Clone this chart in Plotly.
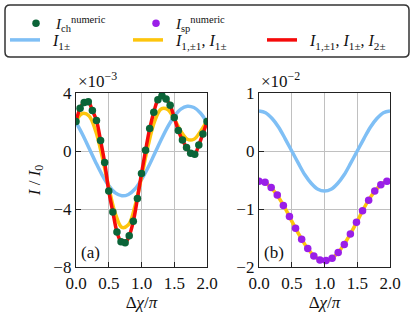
import plotly.graph_objects as go

# ---------------- data (intensities in units of the axis multiplier) ----------------
# panel (a): I/I0 in units of 1e-3
x_curve = [0.0, 0.1, 0.2, 0.3, 0.4, 0.5, 0.6, 0.7, 0.8, 0.9, 1.0,
           1.1, 1.2, 1.3, 1.4, 1.5, 1.6, 1.7, 1.8, 1.9, 2.0]
blue_a = [1.97, 1.14, 0.19, -0.77, -1.66, -2.39, -2.89, -3.09, -3.00, -2.62, -1.97,
          -1.14, -0.19, 0.77, 1.66, 2.39, 2.89, 3.09, 3.00, 2.62, 1.97]
yellow_a = [2.08, 2.59, 2.42, 1.38, -0.40, -2.49, -4.31, -5.27, -5.09, -3.81, -1.80,
            0.35, 2.04, 2.90, 2.86, 2.21, 1.37, 0.81, 0.81, 1.35, 2.08]
x_ch = [0.0, 0.0625, 0.125, 0.1875, 0.25, 0.3125, 0.375, 0.4375, 0.5, 0.5625, 0.625,
        0.6875, 0.75, 0.8125, 0.875, 0.9375, 1.0, 1.0625, 1.125, 1.1875, 1.25, 1.3125,
        1.375, 1.4375, 1.5, 1.5625, 1.625, 1.6875, 1.75, 1.8125, 1.875, 1.9375, 2.0]
numeric_ch = [2.03, 2.95, 3.35, 3.40, 2.80, 2.10, 0.72, -0.80, -2.75, -4.20, -5.58,
              -6.25, -6.33, -5.85, -4.85, -3.28, -1.55, 0.05, 1.55, 2.68, 3.53, 3.81,
              3.58, 3.15, 2.31, 1.41, 0.76, 0.25, -0.16, -0.23, 0.42, 1.18, 2.03]
red_a = [2.03, 2.95, 3.35, 3.40, 2.80, 2.10, 0.72, -0.80, -2.75, -4.20, -5.58,
         -6.25, -6.33, -5.85, -4.85, -3.28, -1.55, 0.05, 1.55, 2.68, 3.53, 3.81,
         3.58, 3.15, 2.31, 1.41, 0.76, 0.25, -0.16, -0.23, 0.42, 1.18, 2.03]

# panel (b): I/I0 in units of 1e-2
blue_b = [0.69, 0.66, 0.56, 0.41, 0.21, 0.00, -0.21, -0.41, -0.56, -0.66, -0.69,
          -0.66, -0.56, -0.41, -0.21, 0.00, 0.21, 0.41, 0.56, 0.66, 0.69]
yellow_b = [-0.52, -0.55, -0.65, -0.80, -0.99, -1.21, -1.42, -1.61, -1.76, -1.86, -1.90,
            -1.86, -1.76, -1.61, -1.42, -1.21, -0.99, -0.80, -0.65, -0.55, -0.52]
x_sp = [0.0, 0.093, 0.186, 0.279, 0.372, 0.465, 0.558, 0.651, 0.744, 0.837, 0.930,
        1.023, 1.116, 1.209, 1.302, 1.395, 1.488, 1.581, 1.674, 1.767, 1.860, 1.953]
numeric_sp = [-0.52, -0.54, -0.63, -0.76, -0.94, -1.13, -1.33, -1.52, -1.68, -1.81, -1.88,
              -1.89, -1.85, -1.75, -1.61, -1.43, -1.23, -1.03, -0.85, -0.69, -0.58, -0.52]

x_ticks = [0.0, 0.5, 1.0, 1.5, 2.0]
ya_ticks = [4, 0, -4, -8]
yb_ticks = [1, 0, -1, -2]

# ---------------- styles ----------------
C_BLUE = "#7fbff5"
C_YEL = "#fdc50c"
C_RED = "#f50a0a"
C_GREEN = "#0b6438"
C_PURP = "#9a1ee8"
FONT = "Liberation Serif"
LW = 3.5
SP = "\u00a0\u00a0"

fig = go.Figure()

fig.add_trace(go.Scatter(x=x_curve, y=blue_a, mode="lines", line=dict(color=C_BLUE, width=LW, shape="spline"),
                         name=SP + "<i>I</i><sub>1±</sub>", legend="legend3", xaxis="x", yaxis="y"))
fig.add_trace(go.Scatter(x=x_curve, y=yellow_a, mode="lines", line=dict(color=C_YEL, width=LW, shape="spline"),
                         name=SP + "<i>I</i><sub>1,±1</sub>, <i>I</i><sub>1±</sub>", legend="legend4",
                         xaxis="x", yaxis="y"))
fig.add_trace(go.Scatter(x=x_ch, y=red_a, mode="lines", line=dict(color=C_RED, width=LW, shape="spline"),
                         name=SP + "<i>I</i><sub>1,±1</sub>, <i>I</i><sub>1±</sub>, <i>I</i><sub>2±</sub>",
                         legend="legend5", xaxis="x", yaxis="y"))
fig.add_trace(go.Scatter(x=x_ch, y=numeric_ch, mode="markers", marker=dict(color=C_GREEN, size=7.5),
                         name="<i>I</i><sub>ch</sub><sup>numeric</sup>", legend="legend", xaxis="x", yaxis="y"))

fig.add_trace(go.Scatter(x=x_curve, y=blue_b, mode="lines", line=dict(color=C_BLUE, width=LW, shape="spline"),
                         showlegend=False, xaxis="x2", yaxis="y2"))
fig.add_trace(go.Scatter(x=x_curve, y=yellow_b, mode="lines", line=dict(color=C_YEL, width=LW, shape="spline"),
                         showlegend=False, xaxis="x2", yaxis="y2"))
fig.add_trace(go.Scatter(x=x_sp, y=numeric_sp, mode="markers", marker=dict(color=C_PURP, size=7.5),
                         name="<i>I</i><sub>sp</sub><sup>numeric</sup>", legend="legend2",
                         xaxis="x2", yaxis="y2"))

W, H = 415, 317
L, R, T, B = 76, 25, 93, 50
PW, PH = W - L - R, H - T - B

def px_x(p):
    return (p - L) / PW

def px_y(p):
    return (H - B - p) / PH

axis_common = dict(showline=True, linecolor="#222222", linewidth=1.3, mirror=True,
                   ticks="inside", ticklen=5, tickwidth=1.2, tickcolor="#222222",
                   showgrid=True, gridcolor="#c0c0c0", gridwidth=1.2, zeroline=False,
                   tickfont=dict(family=FONT, size=17, color="#111111"), automargin=False)

xa = dict(axis_common, range=[0, 2], tickvals=x_ticks, tickformat=".1f",
          title=dict(text="Δ<i>χ</i>/<i>π</i>", font=dict(family=FONT, size=17, color="#111111"), standoff=2))

legend_common = dict(xref="container", yref="container", bgcolor="rgba(0,0,0,0)", borderwidth=0,
                     xanchor="left", itemwidth=30, orientation="h")

def leg(xpx, ypx, anchor="middle", size=16):
    return dict(legend_common, x=xpx / W, y=1 - ypx / H, yanchor=anchor,
                font=dict(family=FONT, size=size, color="#111111"))

r = 5
x0, x1, y0, y1 = 5, 409, 5, 57
path = (f"M {px_x(x0 + r)},{px_y(y0)} L {px_x(x1 - r)},{px_y(y0)} "
        f"Q {px_x(x1)},{px_y(y0)} {px_x(x1)},{px_y(y0 + r)} L {px_x(x1)},{px_y(y1 - r)} "
        f"Q {px_x(x1)},{px_y(y1)} {px_x(x1 - r)},{px_y(y1)} L {px_x(x0 + r)},{px_y(y1)} "
        f"Q {px_x(x0)},{px_y(y1)} {px_x(x0)},{px_y(y1 - r)} L {px_x(x0)},{px_y(y0 + r)} "
        f"Q {px_x(x0)},{px_y(y0)} {px_x(x0 + r)},{px_y(y0)} Z")

fig.update_layout(
    width=W, height=H, margin=dict(l=L, r=R, t=T, b=B),
    paper_bgcolor="white", plot_bgcolor="white",
    font=dict(family=FONT, size=17, color="#111111"),
    xaxis=dict(xa, domain=[0, 131 / PW], anchor="y"),
    xaxis2=dict(xa, domain=[(259 - L) / PW, 1], anchor="y2"),
    yaxis=dict(axis_common, range=[-8, 4], tickvals=ya_ticks, domain=[0, 1], anchor="x",
               title=dict(text="<i>I</i> / <i>I</i><sub>0</sub>", font=dict(family=FONT, size=17, color="#111111"),
                          standoff=8)),
    yaxis2=dict(axis_common, range=[-2, 1], tickvals=yb_ticks, domain=[0, 1], anchor="x2"),
    legend=leg(16, 7, "top", 15),
    legend2=leg(136, 7, "top", 15),
    legend3=leg(5, 40),
    legend4=leg(128, 40),
    legend5=leg(262, 40),
    shapes=[dict(type="path", path=path, xref="paper", yref="paper",
                 line=dict(color="#333333", width=1.5), fillcolor="rgba(0,0,0,0)", layer="above")],
    annotations=[
        dict(text="×10<sup>−3</sup>", xref="x domain", yref="y domain", x=0, y=1.0, xanchor="left",
             yanchor="bottom", showarrow=False, font=dict(family=FONT, size=17, color="#111111")),
        dict(text="×10<sup>−2</sup>", xref="x2 domain", yref="y2 domain", x=0, y=1.0, xanchor="left",
             yanchor="bottom", showarrow=False, font=dict(family=FONT, size=17, color="#111111")),
        dict(text="(a)", xref="x domain", yref="y domain", x=0.02, y=0.02, xanchor="left",
             yanchor="bottom", showarrow=False, font=dict(family=FONT, size=17, color="#111111")),
        dict(text="(b)", xref="x2 domain", yref="y2 domain", x=0.02, y=0.02, xanchor="left",
             yanchor="bottom", showarrow=False, font=dict(family=FONT, size=17, color="#111111")),
    ],
)

fig.write_html("out.html", config={"displayModeBar": False},
               post_script="document.body.style.margin='0px';")
